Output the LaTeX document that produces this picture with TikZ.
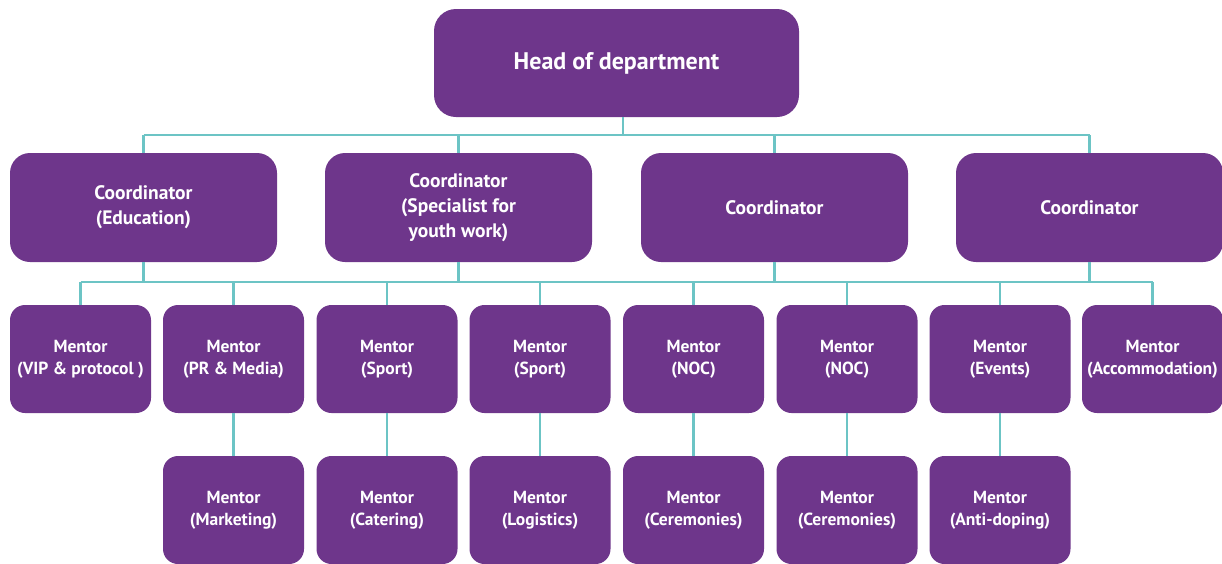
\documentclass[tikz,border=0pt]{standalone}
\usepackage{fontspec}
\setmainfont{PT Sans}
\usepackage{xcolor}
\usetikzlibrary{positioning}

\definecolor{orgpurple}{RGB}{110,54,139}
\definecolor{orgteal}{RGB}{108,196,197}

\tikzset{
  box/.style={fill=orgpurple, text=white, align=center, inner sep=0pt,
    font=\bfseries},
  headbox/.style={box, minimum width=365, minimum height=108,
    rounded corners=22, font=\bfseries\fontsize{24}{28}\selectfont},
  coordbox/.style={box, minimum width=267, minimum height=109,
    rounded corners=20, font=\bfseries\fontsize{19.5}{25}\selectfont},
  mentorbox/.style={box, minimum width=141, minimum height=108,
    rounded corners=15, font=\bfseries\fontsize{17.5}{22}\selectfont},
  link/.style={draw=orgteal, line width=2.6}
}

\begin{document}
\begin{tikzpicture}[x=1pt, y=-1pt]
    \useasboundingbox (0,0) rectangle (1222,563);

    % head
    \node[headbox] (head) at (616.5,63) {Head of department};

    % coordinators
    \node[coordbox] (coord1) at (143.5,207.5) {Coordinator\\(Education)};
    \node[coordbox] (coord2) at (458.5,207.5) {Coordinator\\(Specialist for\\youth work)};
    \node[coordbox] (coord3) at (774.5,207.5) {Coordinator};
    \node[coordbox] (coord4) at (1089.5,207.5) {Coordinator};

    % first row of mentors
    \node[mentorbox] (m1) at (80.5,359) {Mentor\\(VIP \& protocol )};
    \node[mentorbox] (m2) at (233.5,359) {Mentor\\(PR \& Media)};
    \node[mentorbox] (m3) at (387,359) {Mentor\\(Sport)};
    \node[mentorbox] (m4) at (540,359) {Mentor\\(Sport)};
    \node[mentorbox] (m5) at (693.5,359) {Mentor\\(NOC)};
    \node[mentorbox] (m6) at (847,359) {Mentor\\(NOC)};
    \node[mentorbox] (m7) at (1000,359) {Mentor\\(Events)};
    \node[mentorbox] (m8) at (1152.5,359) {Mentor\\(Accommodation)};

    % second row of mentors
    \node[mentorbox] (n2) at (233.5,510) {Mentor\\(Marketing)};
    \node[mentorbox] (n3) at (387,510) {Mentor\\(Catering)};
    \node[mentorbox] (n4) at (540,510) {Mentor\\(Logistics)};
    \node[mentorbox] (n5) at (693.5,510) {Mentor\\(Ceremonies)};
    \node[mentorbox] (n6) at (847,510) {Mentor\\(Ceremonies)};
    \node[mentorbox] (n7) at (1000,510) {Mentor\\(Anti-doping)};

    % bus lines
    \coordinate (bustop) at (623,135);
    \coordinate (busmid) at (623,282);

    \draw[link] (head.south -| bustop) -- (bustop);
    \draw[link] (coord1.north |- bustop) -- (coord4.north |- bustop);
    \foreach \c in {coord1,coord2,coord3,coord4}
        \draw[link] (\c.north) -- (\c.north |- bustop);

    \draw[link] (m1.north |- busmid) -- (m8.north |- busmid);
    \foreach \c in {coord1,coord2,coord3,coord4}
        \draw[link] (\c.south) -- (\c.south |- busmid);
    \foreach \m in {m1,m2,m3,m4,m5,m6,m7,m8}
        \draw[link] (\m.north) -- (\m.north |- busmid);

    \foreach \m/\n in {m2/n2,m3/n3,m4/n4,m5/n5,m6/n6,m7/n7}
        \draw[link] (\m.south) -- (\n.north);
\end{tikzpicture}
\end{document}
